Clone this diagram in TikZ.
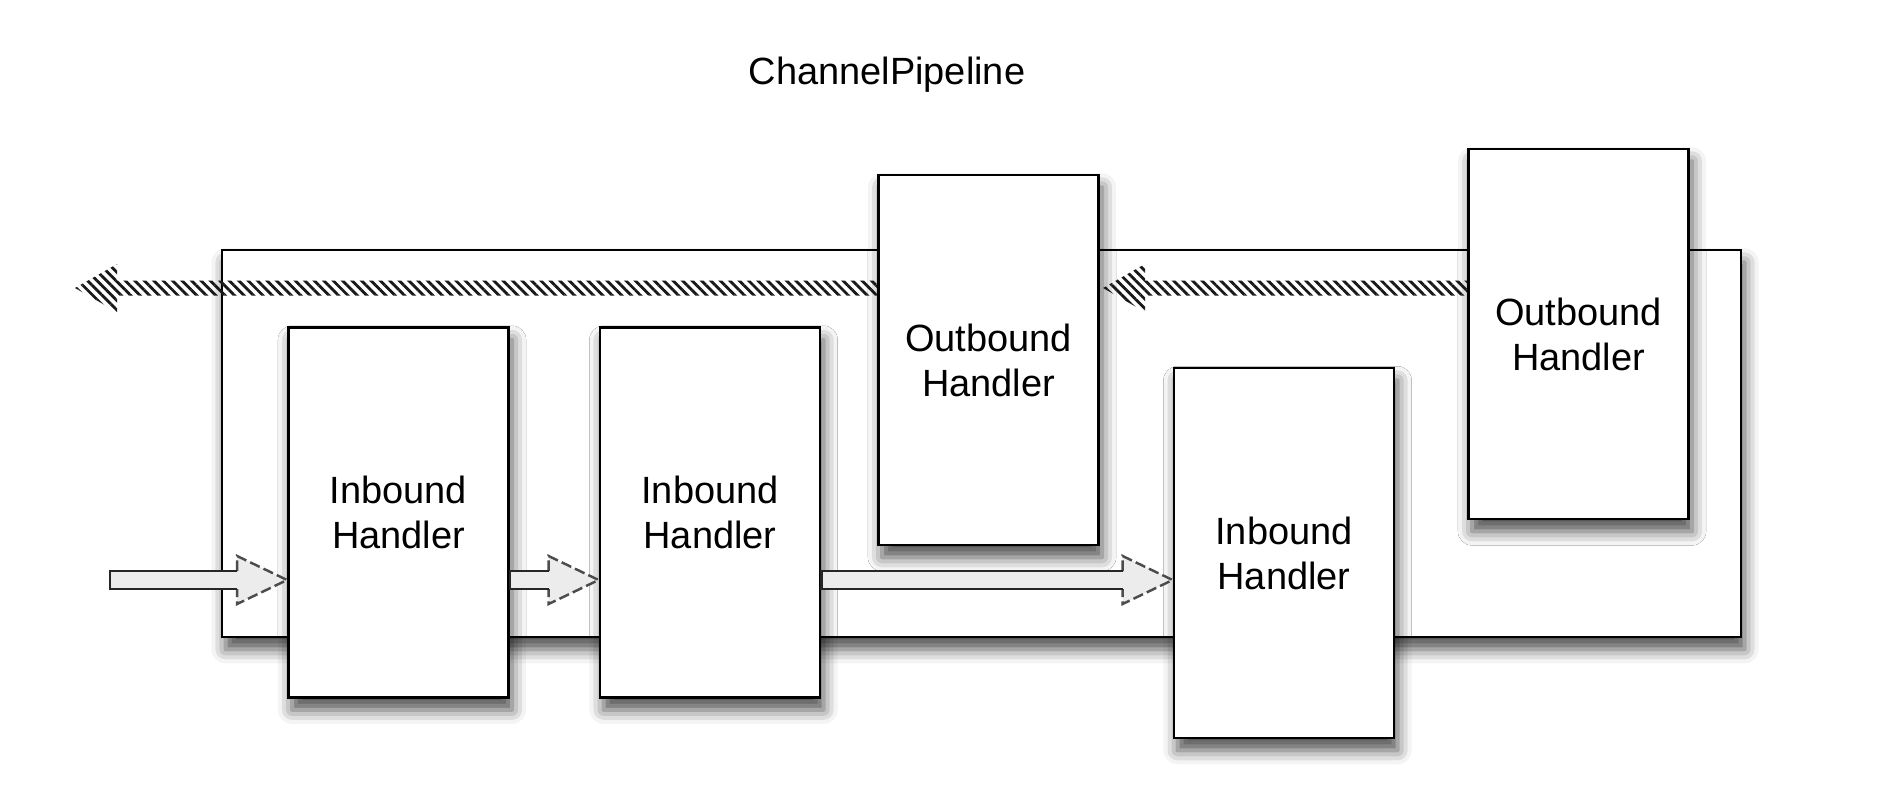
\documentclass[tikz,border=0pt]{standalone}
\usepackage{fontspec}
\setmainfont{Liberation Sans}
\usetikzlibrary{calc,patterns.meta,shadows.blur}
\tikzset{
    handler/.style = {draw, fill=white, line width=0.8pt, minimum width=2.2cm, minimum height=3.7cm, inner sep=0pt, align=center, font=\fontsize{10.8}{12.8}\selectfont, blur shadow={shadow xshift=1pt, shadow yshift=-3.5pt, shadow blur radius=4pt, shadow opacity=70}},
    pipeline-box/.style = {handler, minimum width=15.19cm, minimum height=3.87cm},
    back-flow/.style = {pattern={Lines[angle=-45, distance=1.9pt, line width=0.8pt]}, pattern color=black!90},
    flow-shaft/.style = {fill=gray!15, draw=black!85, line width=0.8pt},
    flow-head/.style = {fill=gray!15, draw=black!70, line width=0.7pt, dash pattern=on 3pt off 1.2pt},
}
\begin{document}
\begin{tikzpicture}
\useasboundingbox (0,0) rectangle (19.02,-7.88);

\node[font=\fontsize{10.8}{12.8}\selectfont] (title) at (8.87,-0.75) {ChannelPipeline};
\node[pipeline-box] (pipe) at (9.815,-4.435) {};

% handlers
\node[handler] (in1) at (3.985,-5.125) {Inbound\\Handler};
\node[handler] (in2) at (7.10,-5.125) {Inbound\\Handler};
\node[handler] (out1) at (9.885,-3.60) {Outbound\\Handler};
\node[handler] (in3) at (12.84,-5.53) {Inbound\\Handler};
\node[handler] (out2) at (15.785,-3.34) {Outbound\\Handler};

% outbound direction (hatched)
\coordinate (back1) at (0.75,-2.88);
\coordinate (back2) at (11.03,-2.88);
\fill[back-flow] let \p1 = (back1), \p2 = (out1.west |- back1) in
    (\p1) -- ({\x1+0.42cm},{\y1+0.24cm}) -- ({\x1+0.42cm},{\y1+0.075cm}) -- ({\x2},{\y1+0.075cm})
    -- ({\x2},{\y1-0.075cm}) -- ({\x1+0.42cm},{\y1-0.075cm}) -- ({\x1+0.42cm},{\y1-0.24cm}) -- cycle;
\fill[back-flow] let \p1 = (back2), \p2 = (out2.west |- back2) in
    (\p1) -- ({\x1+0.42cm},{\y1+0.24cm}) -- ({\x1+0.42cm},{\y1+0.075cm}) -- ({\x2},{\y1+0.075cm})
    -- ({\x2},{\y1-0.075cm}) -- ({\x1+0.42cm},{\y1-0.075cm}) -- ({\x1+0.42cm},{\y1-0.24cm}) -- cycle;

% inbound direction
\coordinate (feed) at (1.10,-5.80);
\foreach \from/\to in {feed/in1.west, in1.east/in2.west, in2.east/in3.west} {
  \filldraw[flow-head] let \p1 = (\from |- feed), \p2 = (\to |- feed) in
    ({\x2-0.5cm},{\y2+0.09cm}) -- ({\x2-0.5cm},{\y2+0.24cm}) -- (\p2) -- ({\x2-0.5cm},{\y2-0.24cm}) -- ({\x2-0.5cm},{\y2-0.09cm});
  \filldraw[flow-shaft] let \p1 = (\from |- feed), \p2 = (\to |- feed) in
    ({\x2-0.5cm},{\y2+0.09cm}) -- ({\x1},{\y2+0.09cm}) -- ({\x1},{\y2-0.09cm}) -- ({\x2-0.5cm},{\y2-0.09cm});
}
\end{tikzpicture}
\end{document}
